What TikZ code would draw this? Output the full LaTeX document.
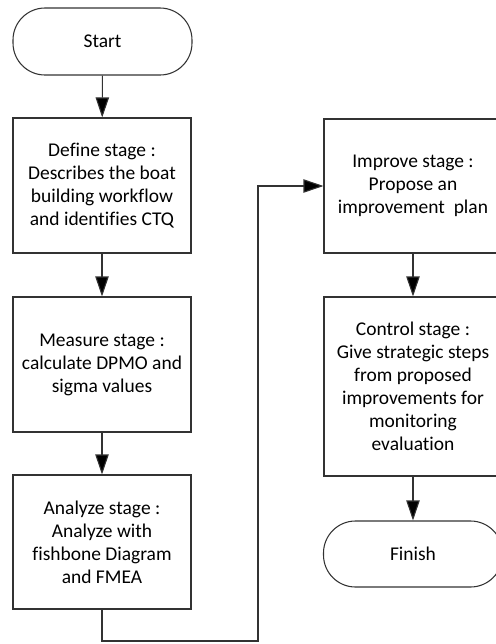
\documentclass[tikz,border=0pt]{standalone}
\usepackage{fontspec}
\setmainfont[Ligatures=NoCommon]{Carlito}
\usepackage{tikz}
\usetikzlibrary{arrows.meta, positioning}
\definecolor{linegray}{RGB}{50, 50, 50}

\begin{document}
\begin{tikzpicture}[
    x=0.75pt, y=-0.75pt,
    stage/.style={rectangle, draw=linegray, thick, fill=white, minimum width=178*0.75pt, align=center, font=\fontsize{14.6}{17.3}\selectfont, inner sep=2pt},
    terminal/.style={rectangle, rounded corners=24pt, draw=linegray, thick, minimum width=179*0.75pt, minimum height=67*0.75pt, font=\fontsize{14.6}{17.3}\selectfont},
    arrow/.style={-{Triangle[length=15pt, width=10pt, fill=black]}, thick, linegray}
]
\useasboundingbox (0,0) rectangle (496,644);

% Left column
\node[terminal] (start) at (102.5,41.5) {Start};
\node[stage, minimum height=135*0.75pt] (define) at (102,185.5) {Define stage :\\Describes the boat\\building workflow\\and identifies CTQ};
\node[stage, minimum height=135*0.75pt] (measure) at (102,364.5) {Measure stage :\\calculate DPMO and\\sigma values};
\node[stage, minimum height=134*0.75pt] (analyze) at (102,542) {Analyze stage :\\Analyze with\\fishbone Diagram\\and FMEA};

% Right column
\node[stage, minimum height=134*0.75pt] (improve) at (413,186) {Improve stage :\\Propose an\\improvement~~plan};
\node[stage, minimum height=179*0.75pt] (control) at (413,386.5) {Control stage :\\Give strategic steps\\from proposed\\improvements for\\monitoring\\evaluation};
\node[terminal, minimum height=66*0.75pt] (finish) at (413,554) {Finish};

% Connections
\coordinate (low) at (258,641);
\draw[arrow] (start) -- (define);
\draw[arrow] (define) -- (measure);
\draw[arrow] (measure) -- (analyze);
\draw[arrow] (analyze.south) |- (low) |- (improve.west);
\draw[arrow] (improve) -- (control);
\draw[arrow] (control) -- (finish);
\end{tikzpicture}
\end{document}
